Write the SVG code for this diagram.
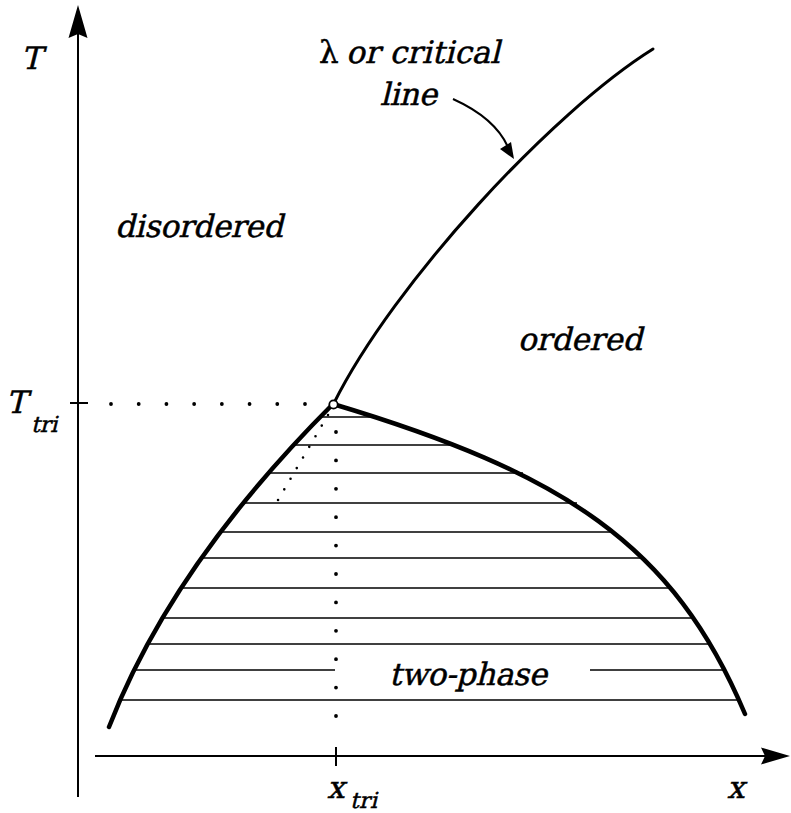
<svg xmlns="http://www.w3.org/2000/svg" width="791" height="813" viewBox="0 0 791 813">
<style>
.axis{stroke:#000;stroke-width:2;fill:none}
.head{fill:#000;stroke:none}
.coex{stroke:#000;stroke-width:4.5;fill:none;stroke-linecap:round;stroke-linejoin:round}
.lam{stroke:#000;stroke-width:3;fill:none;stroke-linecap:round;stroke-linejoin:round}
.hatch{stroke:#000;stroke-width:1.4;fill:none}
.dots{stroke:#000;stroke-width:3.8;stroke-linecap:round;fill:none}
.fine{stroke:#000;stroke-width:2.6;stroke-linecap:round;fill:none}
.lbl{font-family:"DejaVu Serif","Liberation Serif",serif;font-style:normal;font-size:31px;fill:#000;stroke:#000;stroke-width:0.5}
.sub{font-size:22px}
</style>
<rect width="791" height="813" fill="#fff"/>
<g id="axes">
  <line class="axis" x1="78" y1="797" x2="78" y2="30"/>
  <polygon class="head" points="78,5 87.5,38 78,34 68.5,38"/>
  <line class="axis" x1="95" y1="756" x2="766" y2="756"/>
  <polygon class="head" points="790,756 761,747.5 765,756 761,764.5"/>
  <line class="axis" x1="70" y1="403" x2="88" y2="403"/>
  <line class="axis" x1="336" y1="747" x2="336" y2="766"/>
</g>
<g id="hatching">
  <line class="hatch" x1="320" y1="417" x2="377" y2="417"/>
  <line class="hatch" x1="294" y1="445" x2="453" y2="445"/>
  <line class="hatch" x1="268" y1="473" x2="523" y2="473"/>
  <line class="hatch" x1="243" y1="503" x2="577" y2="503"/>
  <line class="hatch" x1="220" y1="532" x2="615" y2="532"/>
  <line class="hatch" x1="201" y1="558" x2="643" y2="558"/>
  <line class="hatch" x1="181" y1="588" x2="670" y2="588"/>
  <line class="hatch" x1="162" y1="618" x2="693" y2="618"/>
  <line class="hatch" x1="147" y1="644" x2="710" y2="644"/>
  <line class="hatch" x1="134" y1="670" x2="335" y2="670"/>
  <line class="hatch" x1="590" y1="670" x2="725" y2="670"/>
  <line class="hatch" x1="120" y1="700" x2="738" y2="700"/>
</g>
<g id="dotted-guides">
  <line class="dots" x1="111" y1="404" x2="305.5" y2="404" stroke-dasharray="0 27.714"/>
  <line class="dots" x1="336" y1="432" x2="336" y2="716.5" stroke-dasharray="0 28.4"/>
  <line class="fine" x1="328" y1="415" x2="277.9" y2="500.2" stroke-dasharray="0 12.32"/>
</g>
<g id="connectors">
  <path id="lambda-line" class="lam" d="M334,403 C394,283 552,112 653,49"/>
  <path id="left-branch" class="coex" d="M333,404 Q171.5,565.5 109,727"/>
  <path id="right-branch" class="coex" d="M333,404 C563,473 673.6,544 745,714"/>
  <path id="label-arrow" class="axis" d="M453,99 Q495,118 508,147"/>
  <polygon class="head" points="514,159 500,149 511,142"/>
</g>
<g id="tricritical-point">
  <circle cx="333.5" cy="404.5" r="4.2" fill="#fff" stroke="#000" stroke-width="1.8"/>
</g>
<g id="labels">
  <text class="lbl" transform="translate(21,69) skewX(-14)" font-size="32">T</text>
  <text class="lbl" transform="translate(6,413) skewX(-14)" font-size="32">T</text>
  <text class="lbl sub" transform="translate(31,432) skewX(-14)">tri</text>
  <text class="lbl" transform="translate(327,798) skewX(-14)">x</text>
  <text class="lbl sub" transform="translate(350,808) skewX(-14)" textLength="27">tri</text>
  <text class="lbl" transform="translate(727,798) skewX(-14)">x</text>
  <text class="lbl" x="319" y="63">λ</text>
  <text class="lbl" transform="translate(346,63) skewX(-14)" textLength="154">or critical</text>
  <text class="lbl" transform="translate(380,105) skewX(-14)" textLength="57">line</text>
  <text class="lbl" transform="translate(115,237) skewX(-14)" textLength="168">disordered</text>
  <text class="lbl" transform="translate(580,350) skewX(-14)" text-anchor="middle">ordered</text>
  <text class="lbl" transform="translate(389,685) skewX(-14)" textLength="158">two-phase</text>
</g>
</svg>
